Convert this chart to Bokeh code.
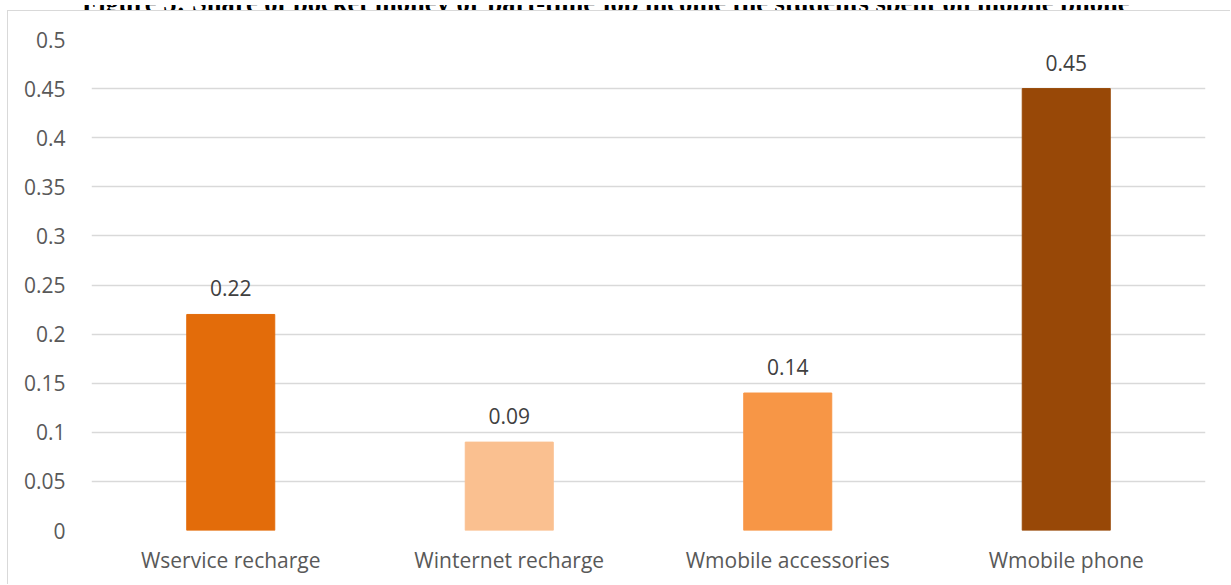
from bokeh.plotting import figure
from bokeh.layouts import column
from bokeh.models import Div, FixedTicker, ColumnDataSource
from bokeh.core.properties import value
from bokeh.embed import file_html
from bokeh.resources import INLINE

# Share of income spent on each mobile-phone item
categories = ["Wservice recharge", "Winternet recharge", "Wmobile accessories", "Wmobile phone"]
shares = [0.22, 0.09, 0.14, 0.45]
bar_colors = ["#E36C0A", "#FAC090", "#F79646", "#984807"]
y_ticks = [0, 0.05, 0.1, 0.15, 0.2, 0.25, 0.3, 0.35, 0.4, 0.45, 0.5]
y_tick_labels = ["0", "0.05", "0.1", "0.15", "0.2", "0.25", "0.3", "0.35", "0.4", "0.45", "0.5"]
title_text = "Figure 5: Share of pocket money or part-time job income the students spent on mobile phone"

FONT = "Open Sans"

source = ColumnDataSource(dict(
    cat=categories,
    share=shares,
    color=bar_colors,
    label=[f"{v:g}" for v in shares],
))

# heading strip; only the lower part of the heading line shows above the chart box
heading = Div(
    text=(
        '<div style="position:relative;width:1231px;height:7px;overflow:hidden;">'
        '<div style="position:absolute;left:82px;top:-15px;'
        'font-family:\'Liberation Serif\';font-weight:bold;'
        'font-size:26.5px;line-height:26.5px;white-space:nowrap;color:black;">'
        f"{title_text}</div></div>"
    ),
    width=1231, height=10,
    styles={"overflow": "hidden", "margin": "0", "padding": "0"},
)

p = figure(
    x_range=categories, y_range=(0, 0.5),
    width=1223, height=574,
    output_backend="svg", toolbar_location=None, tools="",
    min_border_left=83, min_border_right=26, min_border_top=28, min_border_bottom=55,
    styles={"margin-left": "7px", "border-left": "1px solid #D9D9D9",
            "border-top": "1px solid #D9D9D9"},
)
p.x_range.range_padding = 0
p.outline_line_color = None
p.background_fill_color = "white"
p.border_fill_color = "white"

p.vbar(x="cat", top="share", width=0.316, color="color", source=source)
p.text(x="cat", y="share", text="label", source=source,
       text_align="center", text_baseline="alphabetic", y_offset=-26,
       text_font=value(FONT), text_font_size="21px", text_color="#404040")

# grid and axes
p.xgrid.grid_line_color = None
p.ygrid.grid_line_color = "#D9D9D9"
p.ygrid.grid_line_width = 1.3

p.yaxis.ticker = FixedTicker(ticks=y_ticks)
p.yaxis.major_label_overrides = {t: s for t, s in zip(y_ticks, y_tick_labels)}
for ax in (p.xaxis, p.yaxis):
    ax.axis_line_color = None
    ax.major_tick_line_color = None
    ax.minor_tick_line_color = None
    ax.major_label_text_font = FONT
    ax.major_label_text_font_size = "21px"
    ax.major_label_text_color = "#595959"
p.yaxis.major_label_standoff = 20
p.xaxis.major_label_standoff = 9

layout = column(heading, p, spacing=0)

open("out.html", "w").write(file_html(layout, INLINE))
